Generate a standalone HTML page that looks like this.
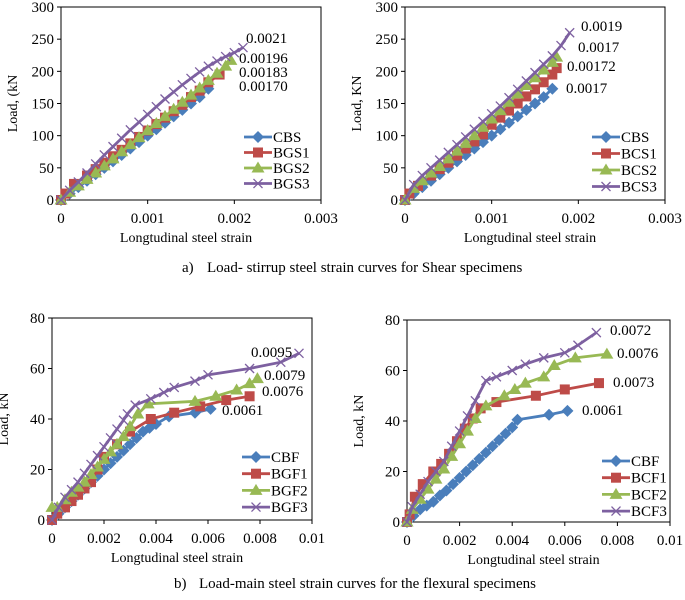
<!DOCTYPE html>
<html><head><meta charset="utf-8">
<style>
body{margin:0;background:#fff;}
svg{display:block;}
svg text{font-family:"Liberation Serif","Times New Roman",serif;}
</style></head>
<body>
<svg id="fig" width="685" height="600" viewBox="0 0 685 600" xmlns="http://www.w3.org/2000/svg" font-family="Liberation Serif, serif">
<text x="182" y="272" font-size="15">a)<tspan x="207">Load- stirrup steel strain curves for Shear specimens</tspan></text>
<text x="174" y="588" font-size="15">b)<tspan x="199">Load-main steel strain curves for the flexural specimens</tspan></text>
</svg>
<script>
// ---- chart data ----
const c1Names = ["CBS","BGS1","BGS2","BGS3"];
const c1CBSx = [0,0.0001,0.0002,0.0003,0.0004,0.0005,0.0006,0.0007,0.0008,0.0009,0.001,0.0011,0.0012,0.0013,0.0014,0.0015,0.0016,0.0017];
const c1CBSy = [0,10,20,30,40,50,60,70,80,90,100,110,120,130,140,150,160,173];
const c1BGS1x = [0,0.00005,0.00015,0.0003,0.0004,0.0005,0.0006,0.0007,0.0008,0.0009,0.001,0.0011,0.0012,0.0013,0.0014,0.0015,0.0016,0.0017,0.00183];
const c1BGS1y = [0,10,25,38,48,58,68,78,88,98,108,118,128,138,148,160,170,183,195];
const c1BGS2x = [0,0.0001,0.0002,0.0003,0.0004,0.0005,0.0006,0.0007,0.0008,0.0009,0.001,0.0011,0.0012,0.0013,0.0014,0.0015,0.0016,0.0017,0.0018,0.0019,0.00196];
const c1BGS2y = [0,12,22,32,42,53,64,75,86,97,108,119,130,141,152,163,174,186,197,208,217];
const c1BGS3x = [0,0.0001,0.0002,0.0003,0.0004,0.0005,0.0006,0.0007,0.0008,0.0009,0.001,0.0011,0.0012,0.0013,0.0014,0.0015,0.0016,0.0017,0.0018,0.0019,0.002,0.0021];
const c1BGS3y = [0,15,28,42,56,70,83,96,109,121,133,145,157,168,179,189,199,208,216,223,229,237];

const c2Names = ["CBS","BCS1","BCS2","BCS3"];
const c2CBSx = [0,0.0001,0.0002,0.0003,0.0004,0.0005,0.0006,0.0007,0.0008,0.0009,0.001,0.0011,0.0012,0.0013,0.0014,0.0015,0.0016,0.0017];
const c2CBSy = [0,10,20,30,40,50,60,70,80,90,100,110,120,130,140,150,160,173];
const c2BCS1x = [0,0.00005,0.00015,0.0003,0.0004,0.0005,0.0006,0.0007,0.0008,0.0009,0.001,0.0011,0.0012,0.0013,0.0014,0.0015,0.0016,0.0017,0.00175];
const c2BCS1y = [0,10,22,38,48,58,69,80,91,102,117,128,139,150,161,172,183,195,205];
const c2BCS2x = [0,0.0001,0.0002,0.0003,0.0004,0.0005,0.0006,0.0007,0.0008,0.0009,0.001,0.0011,0.0012,0.0013,0.0014,0.0015,0.0016,0.0017,0.00175];
const c2BCS2y = [0,18,30,42,52,64,76,88,100,113,126,139,152,165,178,190,202,214,222];
const c2BCS3x = [0,0.0001,0.0002,0.0003,0.0004,0.0005,0.0006,0.0007,0.0008,0.0009,0.001,0.0011,0.0012,0.0013,0.0014,0.0015,0.0016,0.0017,0.0018,0.0019];
const c2BCS3y = [0,24,38,50,62,74,86,98,110,122,134,146,159,172,185,198,211,224,240,260];

const c3Names = ["CBF","BGF1","BGF2","BGF3"];
const c3CBFx = [0,0.00025,0.0005,0.00075,0.001,0.00125,0.0015,0.00175,0.002,0.00225,0.0025,0.00275,0.003,0.00325,0.0035,0.00375,0.004,0.0045,0.0055,0.0061];
const c3CBFy = [0,2.5,5,7.5,10,12.5,15,17.5,20,22.5,25,27.5,30,32.5,35,36.5,38,41,42.5,44];
const c3BGF1x = [0,0.0002,0.0005,0.00075,0.001,0.00125,0.0015,0.00175,0.002,0.0025,0.003,0.0038,0.0047,0.0057,0.0067,0.0076];
const c3BGF1y = [0,2.5,5,7.5,10,12.5,15,20,25,30,35,40,42.5,45,47.5,49];
const c3BGF2x = [0,0.0002,0.0005,0.00075,0.001,0.00125,0.0015,0.00175,0.002,0.00225,0.0025,0.00275,0.003,0.0033,0.0037,0.0055,0.0063,0.0071,0.0076,0.0079];
const c3BGF2y = [5,5,8,11,13,15,18,21,24,27,30,33,37,42,46,47,49,51.5,54,56];
const c3BGF3x = [0,0.00025,0.0005,0.00075,0.001,0.00125,0.0015,0.00175,0.002,0.00225,0.0025,0.00275,0.0029,0.0032,0.0038,0.0043,0.0047,0.0055,0.006,0.0076,0.0088,0.0095];
const c3BGF3y = [0,5,9,12,15,18.5,22,25.5,29,32.5,36,39.5,42,45.5,48,50.5,52.5,55,57.5,60,62.5,66];

const c4Names = ["CBF","BCF1","BCF2","BCF3"];
const c4CBFx = [0,0.00025,0.0005,0.00075,0.001,0.00125,0.0015,0.00175,0.002,0.00225,0.0025,0.00275,0.003,0.00325,0.0035,0.00375,0.004,0.0042,0.0054,0.0061];
const c4CBFy = [0,2.5,5,6.5,8,10.5,12.5,15,17.5,20,22.5,25,27.5,30,32.5,35,37.5,40.5,42.5,44];
const c4BCF1x = [0,0.0001,0.0003,0.0006,0.001,0.0013,0.0016,0.0019,0.0022,0.0025,0.0028,0.0034,0.0049,0.006,0.0073];
const c4BCF1y = [0,3,10,15,20,23,27,32,37,41,45,47.5,50,52.5,55];
const c4BCF2x = [0,0.0002,0.0005,0.0008,0.0011,0.0014,0.0017,0.002,0.0023,0.0026,0.003,0.0037,0.0041,0.0045,0.0052,0.0056,0.0064,0.0076];
const c4BCF2y = [0,5,9,13,17,21,26,31,36,41,46,50,52.5,55,57.5,62,65,66.5];
const c4BCF3x = [0,0.0002,0.0005,0.0008,0.0011,0.0014,0.0017,0.002,0.0023,0.0026,0.003,0.0034,0.004,0.0045,0.0052,0.006,0.0065,0.0072];
const c4BCF3y = [0,6,11,16,20,24,30,36,42,48,56,57.5,60,62.5,65,67,70,75];

const colors = ["#4a7ebb","#be4b48","#98b954","#7d60a0"];
const svg = document.getElementById('fig');
const NS = "http://www.w3.org/2000/svg";
function mk(tag, attrs){const e=document.createElementNS(NS,tag);for(const k in attrs)e.setAttribute(k,attrs[k]);svg.appendChild(e);return e;}

function marker(kind, x, y, color, name){
  let e;
  if(kind===0){e=mk('polygon',{points:`${x},${y-6} ${x+6},${y} ${x},${y+6} ${x-6},${y}`,fill:color});}
  else if(kind===1){e=mk('rect',{x:x-5,y:y-5,width:10,height:10,fill:color});}
  else if(kind===2){e=mk('polygon',{points:`${x},${y-6.5} ${x+6.5},${y+4.5} ${x-6.5},${y+4.5}`,fill:color});}
  else {e=mk('path',{d:`M${x-4.5},${y-4.5}L${x+4.5},${y+4.5}M${x-4.5},${y+4.5}L${x+4.5},${y-4.5}`,stroke:color,'stroke-width':1.3,fill:'none'});}
  
  
}

function chart(cfg){
  const {x0,x1,y0,y1,xmax,ymax,xticks,yticks,ylabel,series,names,legend,labels,prefix}=cfg;
  const sx=v=>x0+(v/xmax)*(x1-x0);
  const sy=v=>y0-(v/ymax)*(y0-y1);
  const box=mk('rect',{x:x0,y:y1,width:x1-x0,height:y0-y1,fill:'none',stroke:'#000','stroke-width':1});
  
  
  yticks.forEach(t=>{
    const tl=mk('line',{x1:x0-4,x2:x0,y1:sy(t),y2:sy(t),stroke:'#000'});
    
    
    const tx=mk('text',{x:x0-7,y:sy(t)+5,'text-anchor':'end','font-size':15});
    tx.textContent=t;
    
    
  });
  xticks.forEach(t=>{
    const tl=mk('line',{x1:sx(t.v),x2:sx(t.v),y1:y0,y2:y0+4,stroke:'#000'});
    
    
    const tx=mk('text',{x:sx(t.v),y:y0+23,'text-anchor':'middle','font-size':15});
    tx.textContent=t.s;
    
    
  });
  const xt=mk('text',{x:(x0+x1)/2-5,y:y0+42,'text-anchor':'middle','font-size':14});
  xt.textContent='Longtudinal steel strain';
  
  
  const yc=(y0+y1)/2;
  const yt=mk('text',{x:x0-44,y:yc,'text-anchor':'middle','font-size':14,transform:`rotate(-90 ${x0-44} ${yc})`});
  yt.textContent=ylabel;
  
  
  series.forEach((s,i)=>{
    const pts=s[0].map((v,j)=>sx(v)+','+sy(s[1][j])).join(' ');
    const pl=mk('polyline',{points:pts,fill:'none',stroke:colors[i],'stroke-width':2.8});
    
    
    s[0].forEach((v,j)=>marker(i,sx(v),sy(s[1][j]),colors[i],prefix+'-point-'+names[i].toLowerCase()));
  });
  names.forEach((n,i)=>{
    const ly=legend.y+i*legend.dy;
    const l=mk('line',{x1:legend.x,x2:legend.x+28,y1:ly,y2:ly,stroke:colors[i],'stroke-width':2.8});
    
    
    marker(i,legend.x+14,ly,colors[i],prefix+'-legend-marker-'+n.toLowerCase());
    const t=mk('text',{x:legend.x+29,y:ly+5,'font-size':15});
    t.textContent=n;
    
    
  });
  labels.forEach(l=>{
    const t=mk('text',{x:l[1],y:l[2]+5,'font-size':15});
    t.textContent=l[0];
    
    
  });
}

const shearTicks=[{v:0,s:'0'},{v:0.001,s:'0.001'},{v:0.002,s:'0.002'},{v:0.003,s:'0.003'}];
const flexTicks=[{v:0,s:'0'},{v:0.002,s:'0.002'},{v:0.004,s:'0.004'},{v:0.006,s:'0.006'},{v:0.008,s:'0.008'},{v:0.01,s:'0.01'}];

chart({prefix:'shear-bgs',x0:61,x1:321,y0:200,y1:7,xmax:0.003,ymax:300,xticks:shearTicks,yticks:[0,50,100,150,200,250,300],
  ylabel:'Load, (kN',names:c1Names,series:[[c1CBSx,c1CBSy],[c1BGS1x,c1BGS1y],[c1BGS2x,c1BGS2y],[c1BGS3x,c1BGS3y]],
  legend:{x:244,y:137,dy:15.5},labels:[['0.0021',246,38],['0.00196',239,58],['0.00183',239,72],['0.00170',239,86]]});
chart({prefix:'shear-bcs',x0:405,x1:665,y0:200,y1:7,xmax:0.003,ymax:300,xticks:shearTicks,yticks:[0,50,100,150,200,250,300],
  ylabel:'Load, KN',names:c2Names,series:[[c2CBSx,c2CBSy],[c2BCS1x,c2BCS1y],[c2BCS2x,c2BCS2y],[c2BCS3x,c2BCS3y]],
  legend:{x:592,y:137,dy:16.5},labels:[['0.0019',581,26],['0.0017',578,47],['0.00172',567,66],['0.0017',566,88]]});
chart({prefix:'flex-bgf',x0:52,x1:312,y0:520,y1:318,xmax:0.01,ymax:80,xticks:flexTicks,yticks:[0,20,40,60,80],
  ylabel:'Load, kN',names:c3Names,series:[[c3CBFx,c3CBFy],[c3BGF1x,c3BGF1y],[c3BGF2x,c3BGF2y],[c3BGF3x,c3BGF3y]],
  legend:{x:242,y:457,dy:16.7},labels:[['0.0095',251,352],['0.0079',264,375],['0.0076',262,391],['0.0061',222,410]]});
chart({prefix:'flex-bcf',x0:407,x1:670,y0:522,y1:320,xmax:0.01,ymax:80,xticks:flexTicks,yticks:[0,20,40,60,80],
  ylabel:'Load, kN',names:c4Names,series:[[c4CBFx,c4CBFy],[c4BCF1x,c4BCF1y],[c4BCF2x,c4BCF2y],[c4BCF3x,c4BCF3y]],
  legend:{x:602,y:461,dy:16.7},labels:[['0.0072',610,330],['0.0076',617,353],['0.0073',613,382],['0.0061',582,410]]});
</script>
</body></html>
